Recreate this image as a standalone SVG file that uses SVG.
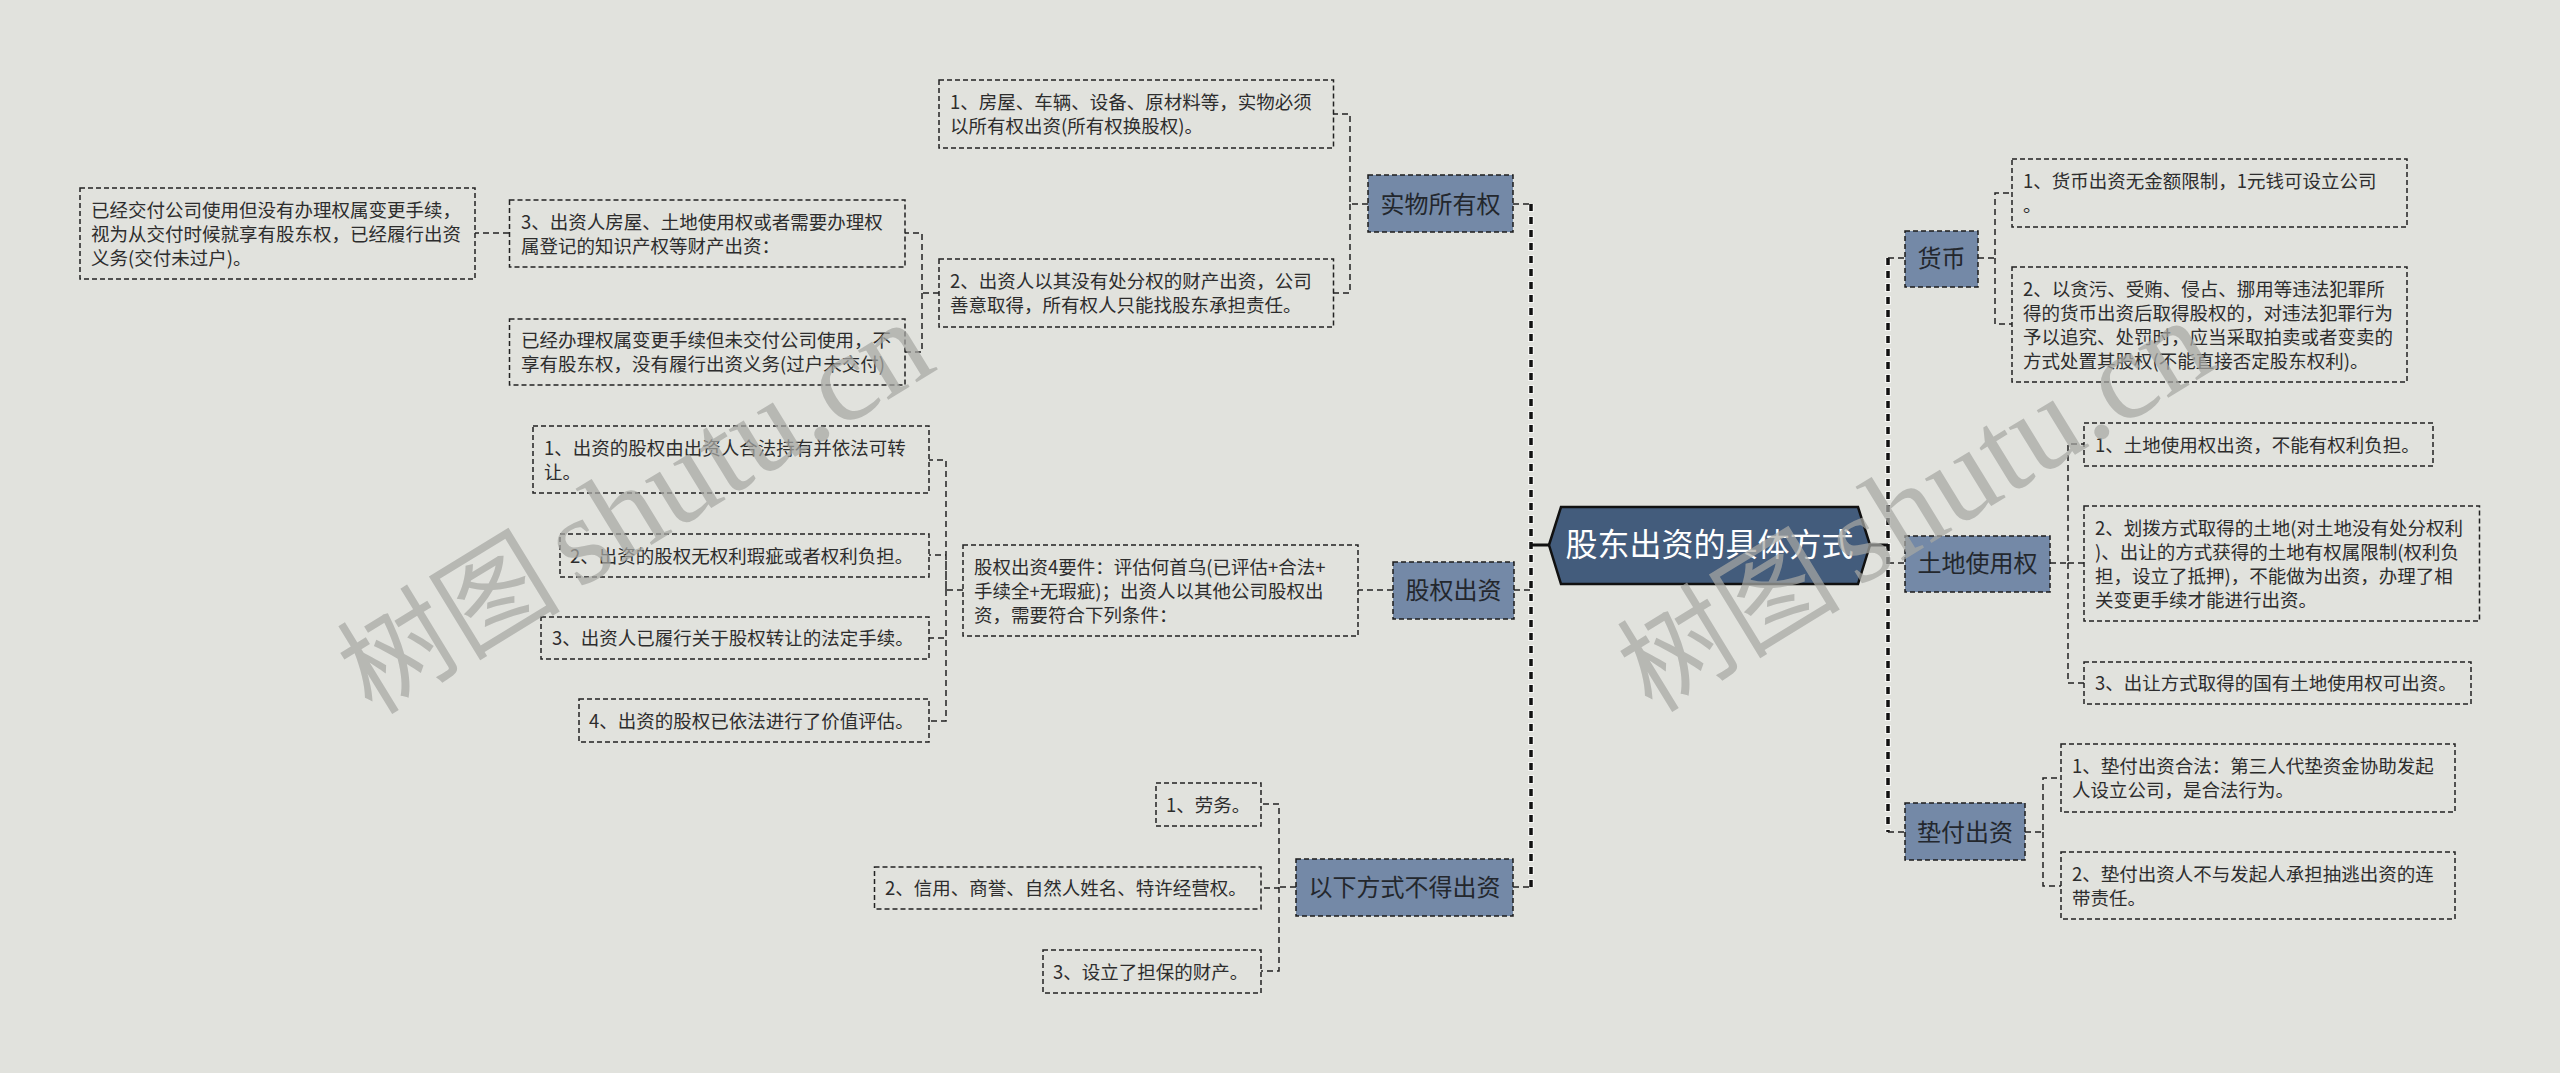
<svg xmlns="http://www.w3.org/2000/svg" width="2560" height="1073" viewBox="0 0 2560 1073">
<style>
.box{fill:none;stroke:#222;stroke-width:1.5;stroke-dasharray:5 3}
.main{fill:#7489a7;stroke:#1c1c1c;stroke-width:1.5;stroke-dasharray:5 3}
.t{font-family:"Noto Sans CJK SC","Noto Sans",sans-serif;font-size:18.5px;fill:#2d2d2d}
.mt{font-family:"Noto Sans CJK SC","Noto Sans",sans-serif;font-size:24px;fill:#23272d;text-anchor:middle}
.ct{font-family:"Noto Sans CJK SC","Noto Sans",sans-serif;font-size:32px;fill:#ffffff;text-anchor:middle}
.conn{fill:none;stroke:#222;stroke-width:1.5;stroke-dasharray:6 4}
.halo{fill:none;stroke:#f4f4f2;stroke-width:6;stroke-dasharray:9 4;stroke-dashoffset:1}
.trunk{fill:none;stroke:#111;stroke-width:3.5;stroke-dasharray:7 6}
.solid{fill:none;stroke:#111;stroke-width:3}
.wm{font-family:"Liberation Serif","Noto Sans CJK SC",serif;fill:#a7a8a4;opacity:0.72}
</style>
<rect x="0" y="0" width="2560" height="1073" fill="#e1e2dd"/>

<g id="connectors">
  <path class="halo" d="M1531,204 V887"/>
  <path class="trunk" d="M1531,204 V887"/>
  <path class="halo" d="M1888,258 V832"/>
  <path class="trunk" d="M1888,258 V832"/>
  <path class="solid" d="M1531,545 H1549 M1870,545 H1888"/>
  <path class="conn" d="M1513,204 H1531 M1514,590 H1531 M1513,887 H1531"/>
  <path class="conn" d="M1888,258 H1905 M1888,563 H1905 M1888,832 H1905"/>
  <path class="conn" d="M1368,204 H1350 V114 H1333 M1350,204 V293 H1333"/>
  <path class="conn" d="M939,293 H922 V233 H905 M922,293 V352 H905"/>
  <path class="conn" d="M509,233 H475"/>
  <path class="conn" d="M1393,590 H1358"/>
  <path class="conn" d="M963,590 H946 V460 H929 M946,590 V555 H929 M946,590 V638 H929 M946,590 V721 H929"/>
  <path class="conn" d="M1296,887 H1279 V804 H1261 M1279,887 V888 H1261 M1279,887 V971 H1261"/>
  <path class="conn" d="M1978,258 H1995 V193 H2012 M1995,258 V324 H2012"/>
  <path class="conn" d="M2050,563 H2068 V444 H2084 M2068,563 H2084 M2068,563 V683 H2084"/>
  <path class="conn" d="M2025,832 H2043 V778 H2061 M2043,832 V886 H2061"/>
</g>

<g id="center">
  <polygon points="1549,545 1561,507 1858,507 1870,545 1858,584 1561,584" fill="#435c7c" stroke="#111" stroke-width="2.5"/>
  <text class="ct" x="1709.5" y="556">股东出资的具体方式</text>
</g>

<g id="n-shiwu">
  <rect class="main" x="1368" y="175" width="145" height="57"/>
  <text class="mt" x="1440.5" y="212.5">实物所有权</text>
</g>
<g id="n-guquan">
  <rect class="main" x="1393" y="562" width="121" height="57"/>
  <text class="mt" x="1453.5" y="599">股权出资</text>
</g>
<g id="n-budechuzi">
  <rect class="main" x="1296" y="859" width="217" height="57"/>
  <text class="mt" x="1404.5" y="896">以下方式不得出资</text>
</g>
<g id="n-huobi">
  <rect class="main" x="1905" y="231" width="73" height="56"/>
  <text class="mt" x="1941.5" y="267">货币</text>
</g>
<g id="n-tudi">
  <rect class="main" x="1905" y="536" width="145" height="56"/>
  <text class="mt" x="1977.5" y="572">土地使用权</text>
</g>
<g id="n-dianfu">
  <rect class="main" x="1905" y="803" width="120" height="57"/>
  <text class="mt" x="1965" y="840.5">垫付出资</text>
</g>

<g id="b-A">
  <rect class="box" x="80" y="188" width="395" height="91"/>
  <text class="t" x="91"><tspan x="91" y="216.5">已经交付公司使用但没有办理权属变更手续，</tspan><tspan x="91" y="240.5">视为从交付时候就享有股东权，已经履行出资</tspan><tspan x="91" y="264.5">义务(交付未过户)。</tspan></text>
</g>
<g id="b-B">
  <rect class="box" x="509.5" y="200" width="395.5" height="67"/>
  <text class="t"><tspan x="521" y="228.5">3、出资人房屋、土地使用权或者需要办理权</tspan><tspan x="521" y="252.5">属登记的知识产权等财产出资：</tspan></text>
</g>
<g id="b-C">
  <rect class="box" x="509.5" y="319" width="395.5" height="66"/>
  <text class="t"><tspan x="521" y="347">已经办理权属变更手续但未交付公司使用，不</tspan><tspan x="521" y="371">享有股东权，没有履行出资义务(过户未交付)</tspan></text>
</g>
<g id="b-D">
  <rect class="box" x="939" y="80" width="394.5" height="68"/>
  <text class="t"><tspan x="950" y="109">1、房屋、车辆、设备、原材料等，实物必须</tspan><tspan x="950" y="133">以所有权出资(所有权换股权)。</tspan></text>
</g>
<g id="b-E">
  <rect class="box" x="939" y="259" width="394.5" height="68"/>
  <text class="t"><tspan x="950" y="288">2、出资人以其没有处分权的财产出资，公司</tspan><tspan x="950" y="312">善意取得，所有权人只能找股东承担责任。</tspan></text>
</g>
<g id="b-M">
  <rect class="box" x="533" y="426" width="396" height="67"/>
  <text class="t"><tspan x="544" y="454.5">1、出资的股权由出资人合法持有并依法可转</tspan><tspan x="544" y="478.5">让。</tspan></text>
</g>
<g id="b-N">
  <rect class="box" x="560" y="534" width="369" height="43"/>
  <text class="t" x="570" y="562.5">2、出资的股权无权利瑕疵或者权利负担。</text>
</g>
<g id="b-O">
  <rect class="box" x="541" y="617" width="388" height="42"/>
  <text class="t" x="552" y="645">3、出资人已履行关于股权转让的法定手续。</text>
</g>
<g id="b-P">
  <rect class="box" x="579" y="699" width="350" height="43"/>
  <text class="t" x="589" y="727.5">4、出资的股权已依法进行了价值评估。</text>
</g>
<g id="b-Q">
  <rect class="box" x="963" y="545" width="395" height="91"/>
  <text class="t"><tspan x="974" y="573.5">股权出资4要件：评估何首乌(已评估+合法+</tspan><tspan x="974" y="597.5">手续全+无瑕疵)；出资人以其他公司股权出</tspan><tspan x="974" y="621.5">资，需要符合下列条件：</tspan></text>
</g>
<g id="b-R">
  <rect class="box" x="1156" y="783" width="105" height="43"/>
  <text class="t" x="1166" y="811.5">1、劳务。</text>
</g>
<g id="b-S">
  <rect class="box" x="874.5" y="867" width="386.5" height="42"/>
  <text class="t" x="885" y="895">2、信用、商誉、自然人姓名、特许经营权。</text>
</g>
<g id="b-T">
  <rect class="box" x="1043" y="950" width="218" height="43"/>
  <text class="t" x="1053" y="978.5">3、设立了担保的财产。</text>
</g>
<g id="b-F">
  <rect class="box" x="2012" y="159" width="395" height="68"/>
  <text class="t"><tspan x="2023" y="188">1、货币出资无金额限制，1元钱可设立公司</tspan><tspan x="2023" y="212">。</tspan></text>
</g>
<g id="b-G">
  <rect class="box" x="2012" y="267" width="395" height="115"/>
  <text class="t"><tspan x="2023" y="295.5">2、以贪污、受贿、侵占、挪用等违法犯罪所</tspan><tspan x="2023" y="319.5">得的货币出资后取得股权的，对违法犯罪行为</tspan><tspan x="2023" y="343.5">予以追究、处罚时，应当采取拍卖或者变卖的</tspan><tspan x="2023" y="367.5">方式处置其股权(不能直接否定股东权利)。</tspan></text>
</g>
<g id="b-H">
  <rect class="box" x="2084" y="423" width="349" height="43"/>
  <text class="t" x="2095" y="451.5">1、土地使用权出资，不能有权利负担。</text>
</g>
<g id="b-I">
  <rect class="box" x="2084" y="506" width="395.5" height="115"/>
  <text class="t"><tspan x="2095" y="534.5">2、划拨方式取得的土地(对土地没有处分权利</tspan><tspan x="2095" y="558.5">)、出让的方式获得的土地有权属限制(权利负</tspan><tspan x="2095" y="582.5">担，设立了抵押)，不能做为出资，办理了相</tspan><tspan x="2095" y="606.5">关变更手续才能进行出资。</tspan></text>
</g>
<g id="b-J">
  <rect class="box" x="2084" y="662" width="387" height="42"/>
  <text class="t" x="2095" y="690">3、出让方式取得的国有土地使用权可出资。</text>
</g>
<g id="b-K">
  <rect class="box" x="2061" y="744" width="394" height="68"/>
  <text class="t"><tspan x="2072" y="773">1、垫付出资合法：第三人代垫资金协助发起</tspan><tspan x="2072" y="797">人设立公司，是合法行为。</tspan></text>
</g>
<g id="b-L">
  <rect class="box" x="2061" y="852" width="394" height="67"/>
  <text class="t"><tspan x="2072" y="880.5">2、垫付出资人不与发起人承担抽逃出资的连</tspan><tspan x="2072" y="904.5">带责任。</tspan></text>
</g>

<g id="watermarks">
  <text class="wm" transform="translate(372,716) rotate(-31.5)"><tspan font-size="112">树图</tspan><tspan font-size="126" dx="18">shutu.cn</tspan></text>
  <text class="wm" transform="translate(1652,714) rotate(-31.5)"><tspan font-size="112">树图</tspan><tspan font-size="126" dx="18">shutu.cn</tspan></text>
</g>
</svg>
